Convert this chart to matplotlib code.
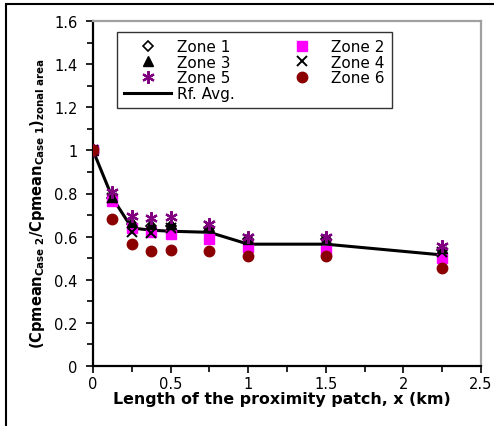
import matplotlib
matplotlib.use("Agg")
import matplotlib.pyplot as plt
from matplotlib.patches import Rectangle

plt.rcParams['font.family'] = ['DejaVu Sans']
plt.rcParams['mathtext.fontset'] = 'custom'
plt.rcParams['mathtext.bf'] = 'DejaVu Sans:bold'
plt.rcParams['mathtext.rm'] = 'DejaVu Sans:bold'
plt.rcParams['mathtext.it'] = 'DejaVu Sans:bold'
plt.rcParams['mathtext.default'] = 'bf'

# ---- data ----
x_km = [0, 0.125, 0.25, 0.375, 0.5, 0.75, 1.0, 1.5, 2.25]
zone1 = [1.0, 0.78, 0.66, 0.65, 0.65, 0.64, 0.59, 0.59, 0.54]
zone2 = [1.0, 0.765, 0.64, 0.62, 0.61, 0.59, 0.55, 0.535, 0.50]
zone3 = [1.0, 0.785, 0.67, 0.66, 0.66, 0.645, 0.59, 0.59, 0.545]
zone4 = [1.0, 0.78, 0.62, 0.615, 0.64, 0.65, 0.59, 0.585, 0.53]
zone5 = [1.0, 0.805, 0.695, 0.685, 0.69, 0.66, 0.60, 0.60, 0.555]
zone6 = [1.0, 0.68, 0.565, 0.535, 0.54, 0.535, 0.51, 0.51, 0.455]
rf_avg = [1.0, 0.78, 0.64, 0.63, 0.625, 0.62, 0.565, 0.565, 0.515]

x_ticks = [0, 0.5, 1, 1.5, 2, 2.5]
x_ticklabels = ['0', '0.5', '1', '1.5', '2', '2.5']
y_ticks = [0, 0.2, 0.4, 0.6, 0.8, 1.0, 1.2, 1.4, 1.6]
y_ticklabels = ['0', '0.2', '0.4', '0.6', '0.8', '1', '1.2', '1.4', '1.6']

W, H = 494, 427
fig = plt.figure(figsize=(W / 100, H / 100), dpi=100)
ax = fig.add_axes([93 / W, 1 - 367 / H, (481 - 93) / W, (367 - 22) / H])

line, = ax.plot(x_km, rf_avg, color='black', lw=2.2, zorder=2, label='Rf. Avg.')
h1, = ax.plot(x_km, zone1, ls='none', marker='D', ms=5.5, mfc='white', mec='black', mew=1.2, zorder=3, label='Zone 1')
h2, = ax.plot(x_km, zone2, ls='none', marker='s', ms=7, mfc='#FF00FF', mec='#FF00FF', zorder=3, label='Zone 2')
h3, = ax.plot(x_km, zone3, ls='none', marker='^', ms=7.5, mfc='black', mec='black', zorder=3, label='Zone 3')
h4, = ax.plot(x_km, zone4, ls='none', marker='x', ms=7.5, mec='black', mew=1.4, zorder=3, label='Zone 4')
h5, = ax.plot(x_km, zone5, ls='none', marker=(6, 2, 0), ms=9, mec='#800080', mew=1.6, zorder=3, label='Zone 5')
h6, = ax.plot(x_km, zone6, ls='none', marker='o', ms=7.5, mfc='#8B0000', mec='#8B0000', zorder=3, label='Zone 6')

ax.set_xlim(0, 2.5)
ax.set_ylim(0, 1.6)
ax.set_xticks(x_ticks)
ax.set_xticklabels(x_ticklabels)
ax.set_yticks(y_ticks)
ax.set_yticklabels(y_ticklabels)
ax.set_xticks([0.25, 0.75, 1.25, 1.75, 2.25], minor=True)
ax.set_yticks([0.1, 0.3, 0.5, 0.7, 0.9, 1.1, 1.3, 1.5], minor=True)
ax.tick_params(which='major', direction='out', length=5, width=1.2, labelsize=10.5, pad=2.5, color='black')
ax.tick_params(which='minor', direction='out', length=4, width=1.2, color='black')
ax.tick_params(axis='y', which='major', pad=6)

for s in ['left', 'bottom']:
    ax.spines[s].set_color('black')
    ax.spines[s].set_linewidth(1.6)
for s in ['top', 'right']:
    ax.spines[s].set_color('#A0A0A0')
    ax.spines[s].set_linewidth(1.6)

ax.text(0.488, (367 - 392) / 345, 'Length of the proximity patch, x (km)', transform=ax.transAxes,
        ha='center', va='top', fontsize=11.4, fontweight='bold')
ax.text(-0.144, 0.475, r'$(Cpmean_{Case\ 2}/Cpmean_{Case\ 1})_{zonal\ area}$', transform=ax.transAxes,
        ha='center', va='center', rotation=90, fontsize=10.5)

leg = ax.legend(handles=[h1, h3, h5, line, h2, h4, h6], ncol=2, loc='upper left',
                bbox_to_anchor=((117 - 93) / 388, (367 - 33) / 345), borderaxespad=0,
                frameon=True, fancybox=False, edgecolor='black', fontsize=11,
                handlelength=3.1, handletextpad=0.35, columnspacing=2.9, labelspacing=0.05,
                borderpad=0.45)
leg.get_frame().set_linewidth(1.0)

fig.patches.append(Rectangle((6 / W, -0.1), 1.2, 1 - 5 / H + 0.1, transform=fig.transFigure,
                             fill=False, edgecolor='black', lw=1.5, clip_on=False))

fig.savefig('out.png', dpi=100)
